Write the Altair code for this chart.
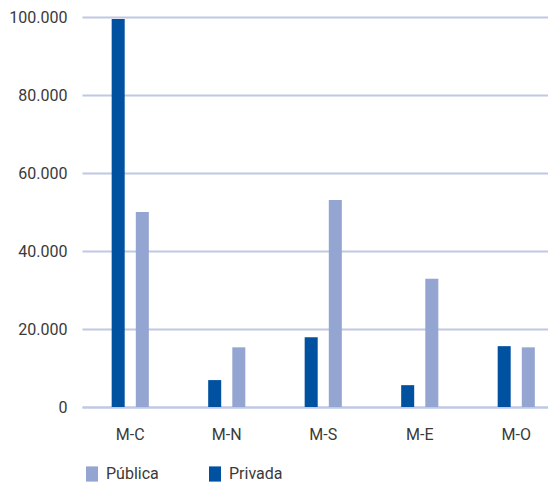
import altair as alt
import pandas as pd

regions = ["M-C", "M-N", "M-S", "M-E", "M-O"]
privada = [99500, 6900, 17900, 5600, 15600]
publica = [50000, 15300, 53100, 32900, 15300]

rows = []
for r, pv, pb in zip(regions, privada, publica):
    rows.append({"region": r, "tipo": "Privada", "valor": pv})
    rows.append({"region": r, "tipo": "Pública", "valor": pb})
df = pd.DataFrame(rows)

FONT = "Roboto"
TXT = "#3a3a3a"

chart = alt.Chart(df).mark_bar().encode(
    x=alt.X("region:N", sort=regions, title=None,
            scale=alt.Scale(paddingInner=0.5, paddingOuter=0.25, range=[0, 482.5]),
            axis=alt.Axis(labelAngle=0, ticks=False, domain=True, domainColor="#c0c8e4",
                          domainWidth=2, labelFont=FONT, labelFontSize=16,
                          labelColor=TXT, labelPadding=19, grid=False)),
    xOffset=alt.XOffset("tipo:N", sort=["Privada", "Pública"],
                        scale=alt.Scale(paddingInner=0.46, paddingOuter=0.23)),
    y=alt.Y("valor:Q", title=None,
            scale=alt.Scale(domain=[0, 100000]),
            axis=alt.Axis(values=[0, 20000, 40000, 60000, 80000, 100000],
                          labelExpr="datum.value == 0 ? '0' : format(datum.value/1000, 'd') + '.000'",
                          ticks=False, domain=False, gridColor="#c0c8e4", gridWidth=2,
                          labelFont=FONT, labelFontSize=16, labelColor=TXT, labelPadding=15)),
    color=alt.Color("tipo:N",
                    scale=alt.Scale(domain=["Pública", "Privada"], range=["#95a5d1", "#00519f"]),
                    legend=alt.Legend(title=None, orient="none", direction="horizontal",
                                      legendX=2, legendY=449, padding=0,
                                      symbolType="M-0.75,-0.95H0.75V0.95H-0.75Z",
                                      symbolSize=256, symbolStrokeWidth=0,
                                      symbolOpacity=1,
                                      labelFont=FONT, labelFontSize=16, labelColor=TXT,
                                      labelOffset=6, columnPadding=48)),
).properties(
    width=466, height=390,
    autosize=alt.AutoSizeParams(type="none"),
    padding={"left": 74, "top": 9, "right": 0, "bottom": 78},
).configure_view(stroke=None)

chart.save("out.html", embed_options={"renderer": "svg", "actions": False})
